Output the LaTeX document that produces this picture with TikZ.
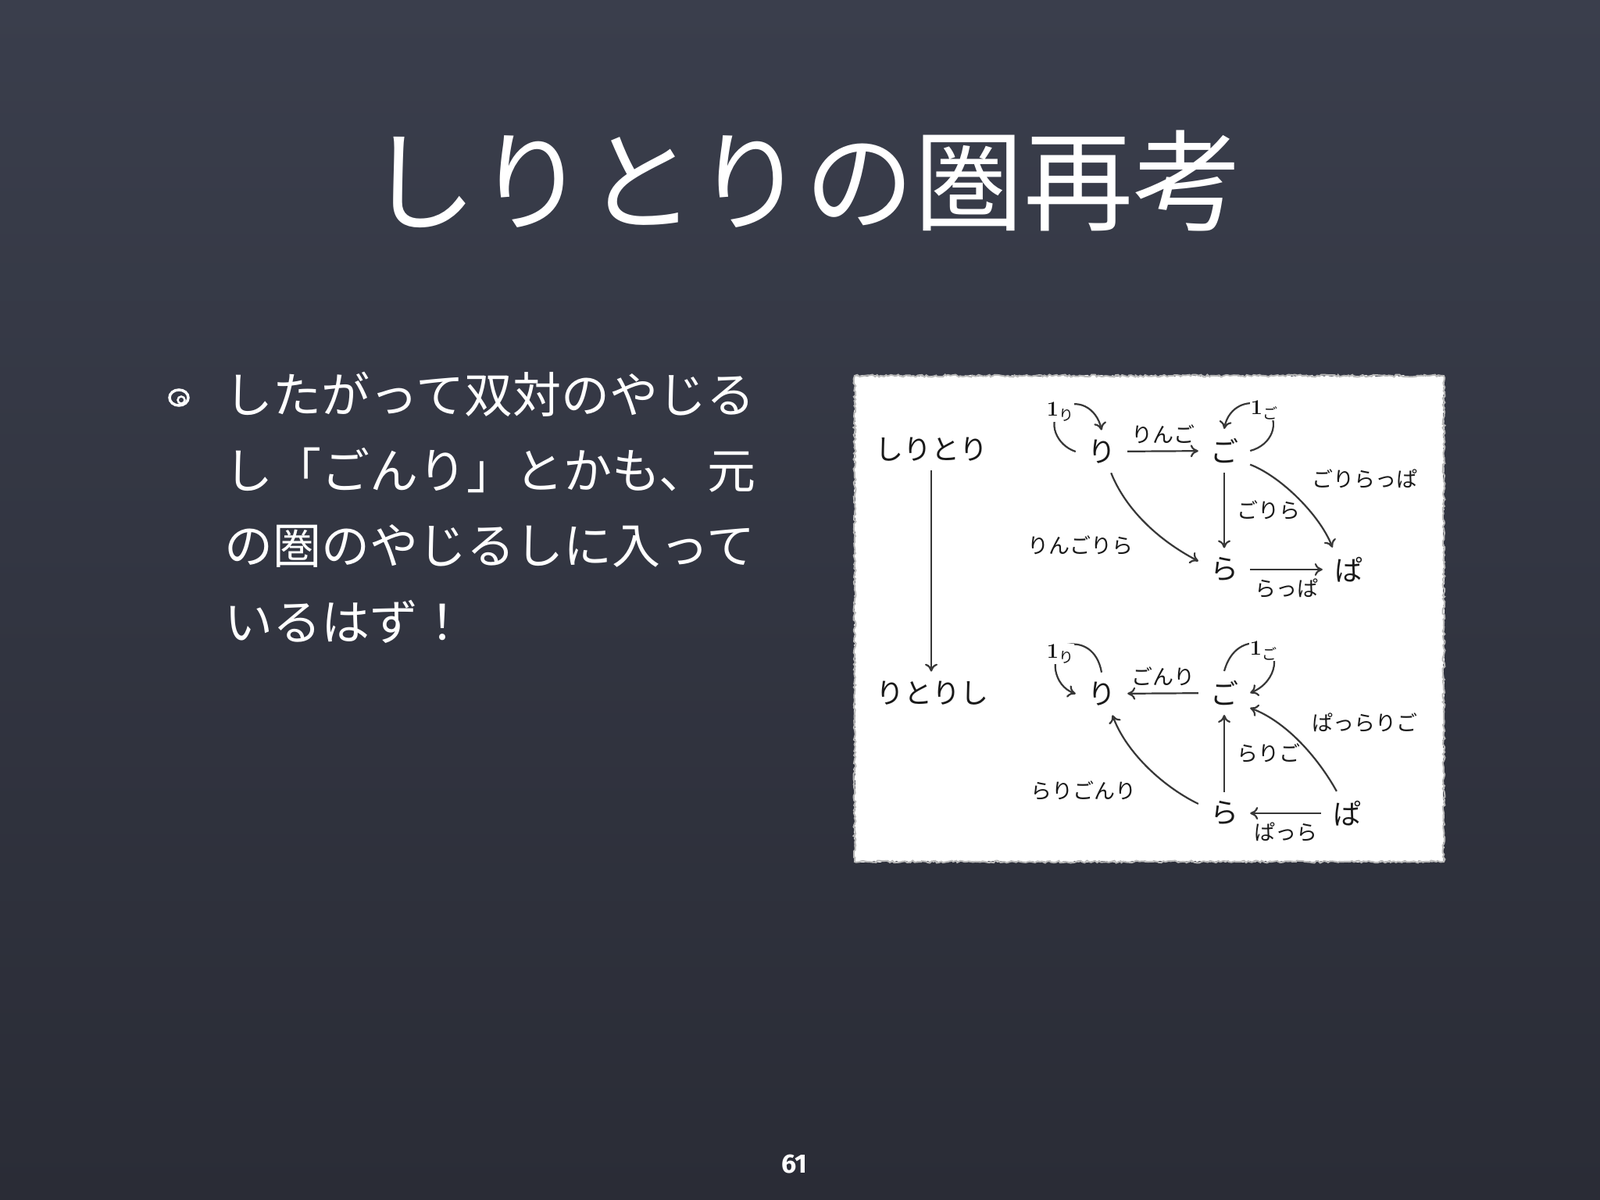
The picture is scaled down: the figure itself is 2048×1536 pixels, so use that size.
\documentclass[tikz,border=0pt]{standalone}
\usepackage{fontspec}
\newfontfamily\cjk{Noto Sans CJK JP}
\newfontfamily\chalk{Fira Sans}
\usetikzlibrary{arrows.meta,decorations.pathmorphing}
\definecolor{boardtop}{RGB}{58,62,76}
\definecolor{boardmid}{RGB}{64,68,84}
\definecolor{boardbot}{RGB}{42,44,54}
\definecolor{ink}{RGB}{25,25,25}
\definecolor{linegray}{RGB}{55,55,55}
\newcommand\idlab[1]{{\fontsize{27}{27}\selectfont\bfseries 1}\raisebox{-6pt}{\cjk\fontsize{19}{19}\selectfont #1}}
\begin{document}
\begin{tikzpicture}[x=1pt,y=-1pt,
  obj/.style={font=\cjk\fontsize{36}{36}\selectfont, text=ink, inner xsep=15pt, inner ysep=12pt},
  lab/.style={font=\cjk\fontsize{27}{27}\selectfont, text=ink, inner sep=1pt},
  idl/.style={inner sep=1pt, fill=white, text=ink},
  arr/.style={draw=linegray, line width=2.2pt, -{To[length=10pt,width=16pt]}},
  body/.style={font=\cjk\fontsize{62}{62}\selectfont, text=white, anchor=west, inner sep=0pt}
]
\useasboundingbox (0,0) rectangle (2048,1536);
\shade[top color=boardtop, middle color=boardmid, bottom color=boardbot] (0,0) rectangle (2048,1536);

% title
\node[font=\cjk\fontsize{140}{140}\selectfont, text=white, inner sep=0pt] (title) at (1030,232) {しりとりの圏再考};

% bullet
\draw[white, line width=3.5pt] (229,509) ellipse (12 and 10);
\draw[white, line width=2.5pt] (232,512) circle (4.5);

% body text
\node[body] (b1) at (287,505) {したがって双対のやじる};
\node[body] (b2) at (287,602) {し「ごんり」とかも、元};
\node[body] (b3) at (287,699) {の圏のやじるしに入って};
\node[body] (b4) at (287,796) {いるはず！};

% page number
\node[text=white, font=\chalk\bfseries\fontsize{34}{34}\selectfont, inner sep=0pt] (pg) at (1017,1490) {61};

% white panel
\fill[white, decorate, decoration={random steps, segment length=3pt, amplitude=1.2pt}] (1094,481) rectangle (1848,1103);
\draw[gray!55, line width=2pt, decorate, decoration={random steps, segment length=3pt, amplitude=1.5pt}] (1094,481) rectangle (1848,1103);

% objects
\node[obj] (sh) at (1192,575) {しりとり};
\node[obj] (rs) at (1193,887) {りとりし};
\node[obj] (r1) at (1410,578) {り};
\node[obj] (g1) at (1567,577) {ご};
\node[obj] (l1) at (1567,729) {ら};
\node[obj] (p1) at (1726,729) {ぱ};
\node[obj] (r2) at (1410,888) {り};
\node[obj] (g2) at (1567,887) {ご};
\node[obj] (l2) at (1567,1041) {ら};
\node[obj] (p2) at (1724,1041) {ぱ};

% left arrow
\draw[arr] (sh.south) -- (sh.south |- rs.north);

% top diagram
\draw[arr] (r1) -- node[lab, above=8pt] (t1) {りんご} (g1);
\draw[arr] (g1) -- node[lab, right=14pt] (t2) {ごりら} (l1);
\draw[arr] (l1) -- node[lab, below=10pt] (t3) {らっぱ} (p1);
\draw[arr] (r1.-66) .. controls (1440,650) and (1480,690) .. (l1.162);
\node[lab] (t4) at (1383,698) {りんごりら};
\draw[arr] (g1.-28) .. controls (1640,610) and (1690,660) .. (p1.126);
\node[lab] (t5) at (1747,613) {ごりらっぱ};
\draw[arr] (r1.west) .. controls (1352,570) and (1340,540) .. (1358,524) .. controls (1378,508) and (1404,522) .. (r1.north);
\node[idl] (i1) at (1357,527) {\idlab{り}};
\draw[arr] (g1.east) .. controls (1628,570) and (1640,540) .. (1620,522) .. controls (1600,508) and (1572,520) .. (g1.north);
\node[idl] (i2) at (1618,525) {\idlab{ご}};

% bottom diagram
\draw[arr] (g2) -- node[lab, above=8pt] (u1) {ごんり} (r2);
\draw[arr] (l2) -- node[lab, right=14pt] (u2) {らりご} (g2);
\draw[arr] (p2) -- node[lab, below=10pt] (u3) {ぱっら} (l2);
\draw[arr] (l2.160) .. controls (1485,1005) and (1440,960) .. (r2.-63);
\node[lab] (u4) at (1387,1012) {らりごんり};
\draw[arr] (p2.115) .. controls (1690,975) and (1650,925) .. (g2.-30);
\node[lab] (u5) at (1747,925) {ぱっらりご};
\draw[arr] (r2.north) .. controls (1405,832) and (1385,820) .. (1362,826) .. controls (1343,840) and (1348,878) .. (r2.west);
\node[idl] (i3) at (1357,837) {\idlab{り}};
\draw[arr] (g2.north) .. controls (1575,830) and (1595,820) .. (1615,824) .. controls (1640,832) and (1636,872) .. (g2.east);
\node[idl] (i4) at (1617,833) {\idlab{ご}};
\end{tikzpicture}
\end{document}
